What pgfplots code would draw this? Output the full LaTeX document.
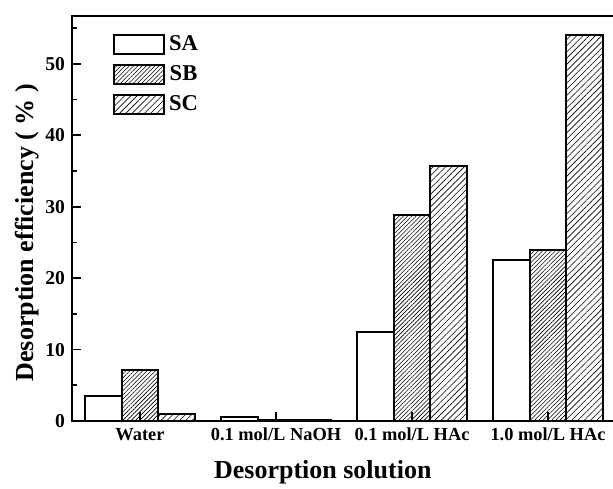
\documentclass[border=0pt]{standalone}
\usepackage{fontspec}
\setmainfont{Liberation Serif}
\usepackage{pgfplots}
\pgfplotsset{compat=1.18}
\usetikzlibrary{patterns.meta}

\begin{document}
\begin{tikzpicture}
\begin{axis}[
  at={(0,0)}, anchor=south west,
  scale only axis, width=272pt, height=202.5pt,
  ybar=0pt, bar width=18.35pt,
  xmin=-0.5, xmax=3.5, ymin=0, ymax=56.7,
  xtick={0,1,2,3},
  xticklabels={Water, 0.1 mol/L NaOH, 0.1 mol/L HAc, 1.0 mol/L HAc},
  ytick={0,10,...,50}, minor ytick={5,15,...,55},
  tick pos=left, tick align=inside,
  major tick length=4.5pt, minor tick length=2.5pt,
  axis line style={line width=1pt},
  every tick/.style={black, line width=0.8pt},
  /pgf/number format/assume math mode=true,
  xticklabel style={font=\fontsize{9.2}{11}\selectfont\bfseries},
  yticklabel style={font=\fontsize{9.8}{11}\selectfont\bfseries},
  label style={font=\fontsize{13}{15}\selectfont\bfseries},
  xlabel={Desorption solution},
  ylabel={Desorption efficiency ( \% )},
  xlabel style={at={(axis description cs:0.461,-0.126)}, anchor=center},
  ylabel style={at={(axis description cs:-0.083,0.465)}, anchor=center},
  legend style={draw=none, fill=none, at={(axis description cs:0.0755,0.963)},
    anchor=north west, font=\fontsize{11.3}{13}\selectfont\bfseries,
    row sep=2pt, inner sep=0pt,
    nodes={inner sep=2pt}},
  every axis plot post/.append style={
    legend image code/.code={\draw[##1, line width=0.8pt] (0pt,-4.75pt) rectangle (25pt,4.75pt);}},
]
\addplot[draw=black, line width=1pt, fill=white]
  coordinates {(0,3.5) (1,0.5) (2,12.5) (3,22.5)};
\addplot[draw=black, line width=1pt, pattern={Lines[angle=45,distance=1.5pt,line width=0.3pt]}]
  coordinates {(0,7.1) (1,0.1) (2,28.8) (3,24.0)};
\addplot[draw=black, line width=1pt, pattern={Lines[angle=45,distance=2.2pt,line width=0.3pt]}]
  coordinates {(0,1.0) (1,0.1) (2,35.7) (3,54.1)};
\legend{SA, SB, SC}
\end{axis}
\pgfresetboundingbox
\path[use as bounding box] (-36pt,-33.5pt) rectangle (270.5pt,210.5pt);
\end{tikzpicture}
\end{document}
